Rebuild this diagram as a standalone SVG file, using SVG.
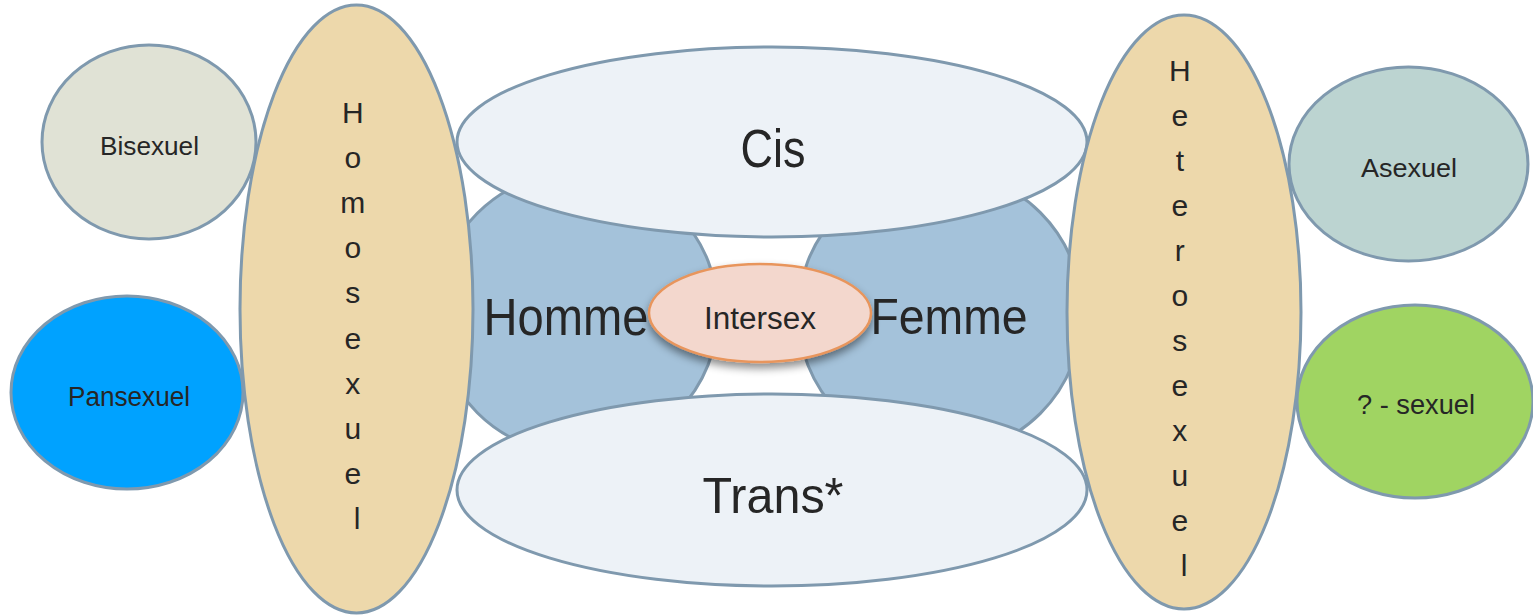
<svg xmlns="http://www.w3.org/2000/svg" width="1533" height="616" viewBox="0 0 1533 616">
  <defs>
    <filter id="softShadow" x="-20%" y="-30%" width="140%" height="170%">
      <feDropShadow dx="0" dy="5" stdDeviation="4" flood-color="#000" flood-opacity="0.45"/>
    </filter>
    <style>
      .shape { stroke: #7f99ae; stroke-width: 3; }
      .label { font-family: "Liberation Sans", Arial, sans-serif; fill: #262626; text-anchor: middle; }
      .vert { font-family: "Liberation Sans", Arial, sans-serif; fill: #262626; text-anchor: middle; font-size: 30px; }
    </style>
  </defs>
  <rect width="1533" height="616" fill="#ffffff"/>

  <!-- gender circles -->
  <g id="homme">
    <ellipse class="shape" cx="577" cy="313" rx="141" ry="141" fill="#a4c2da"/>
  </g>
  <g id="femme">
    <ellipse class="shape" cx="940" cy="313" rx="142" ry="142" fill="#a4c2da"/>
  </g>

  <!-- identity bands -->
  <g id="cis">
    <ellipse class="shape" cx="772" cy="142" rx="315" ry="95" fill="#edf2f7"/>
    <text class="label" x="773" y="167" font-size="53" textLength="65" lengthAdjust="spacingAndGlyphs">Cis</text>
  </g>
  <g id="trans">
    <ellipse class="shape" cx="772" cy="490" rx="315" ry="96" fill="#edf2f7"/>
    <text class="label" x="773" y="513" font-size="50" textLength="141" lengthAdjust="spacingAndGlyphs">Trans*</text>
  </g>

  <!-- circle labels drawn above the bands -->
  <g id="homme-label">
    <text class="label" x="566" y="335" font-size="51" textLength="165" lengthAdjust="spacingAndGlyphs">Homme</text>
  </g>
  <g id="femme-label">
    <text class="label" x="949" y="334" font-size="50" textLength="157" lengthAdjust="spacingAndGlyphs">Femme</text>
  </g>

  <!-- side orientations -->
  <g id="bisexuel">
    <ellipse class="shape" cx="149" cy="142" rx="107" ry="97" fill="#e0e2d5"/>
    <text class="label" x="149.5" y="155" font-size="26" textLength="99" lengthAdjust="spacingAndGlyphs">Bisexuel</text>
  </g>
  <g id="pansexuel">
    <ellipse class="shape" cx="127" cy="392.5" rx="116" ry="96.5" fill="#00a2ff"/>
    <text class="label" x="129" y="406" font-size="27" textLength="122" lengthAdjust="spacingAndGlyphs">Pansexuel</text>
  </g>
  <g id="asexuel">
    <ellipse class="shape" cx="1408.5" cy="164" rx="119.5" ry="97" fill="#bcd4d1"/>
    <text class="label" x="1409" y="177" font-size="26" textLength="96" lengthAdjust="spacingAndGlyphs">Asexuel</text>
  </g>
  <g id="q-sexuel">
    <ellipse class="shape" cx="1415" cy="401.5" rx="118" ry="96.5" fill="#a0d462"/>
    <text class="label" x="1416" y="414" font-size="27" textLength="118" lengthAdjust="spacingAndGlyphs">? - sexuel</text>
  </g>

  <!-- tall orientation ellipses with stacked letters -->
  <g id="homosexuel">
    <ellipse class="shape" cx="356.5" cy="309" rx="116.5" ry="304" fill="#edd8ab"/>
    <text class="vert" x="357" y="123">
      <tspan x="357">H</tspan>
      <tspan x="357" dy="45.1">o</tspan>
      <tspan x="357" dy="45.1">m</tspan>
      <tspan x="357" dy="45.1">o</tspan>
      <tspan x="357" dy="45.1">s</tspan>
      <tspan x="357" dy="45.1">e</tspan>
      <tspan x="357" dy="45.1">x</tspan>
      <tspan x="357" dy="45.1">u</tspan>
      <tspan x="357" dy="45.1">e</tspan>
      <tspan x="357" dy="45.1">l</tspan>
    </text>
  </g>
  <g id="heterosexuel">
    <ellipse class="shape" cx="1184" cy="312" rx="117" ry="297" fill="#edd8ab"/>
    <text class="vert" x="1184" y="81">
      <tspan x="1184">H</tspan>
      <tspan x="1184" dy="45">e</tspan>
      <tspan x="1184" dy="45">t</tspan>
      <tspan x="1184" dy="45">e</tspan>
      <tspan x="1184" dy="45">r</tspan>
      <tspan x="1184" dy="45">o</tspan>
      <tspan x="1184" dy="45">s</tspan>
      <tspan x="1184" dy="45">e</tspan>
      <tspan x="1184" dy="45">x</tspan>
      <tspan x="1184" dy="45">u</tspan>
      <tspan x="1184" dy="45">e</tspan>
      <tspan x="1184" dy="45">l</tspan>
    </text>
  </g>

  <!-- centre overlap -->
  <g id="intersex">
    <ellipse cx="760" cy="313" rx="111" ry="49" fill="#f3d7cd" stroke="#e8955c" stroke-width="2.5" filter="url(#softShadow)"/>
    <text class="label" x="760" y="329" font-size="31" textLength="112" lengthAdjust="spacingAndGlyphs">Intersex</text>
  </g>

  <g id="connectors"/>
</svg>
